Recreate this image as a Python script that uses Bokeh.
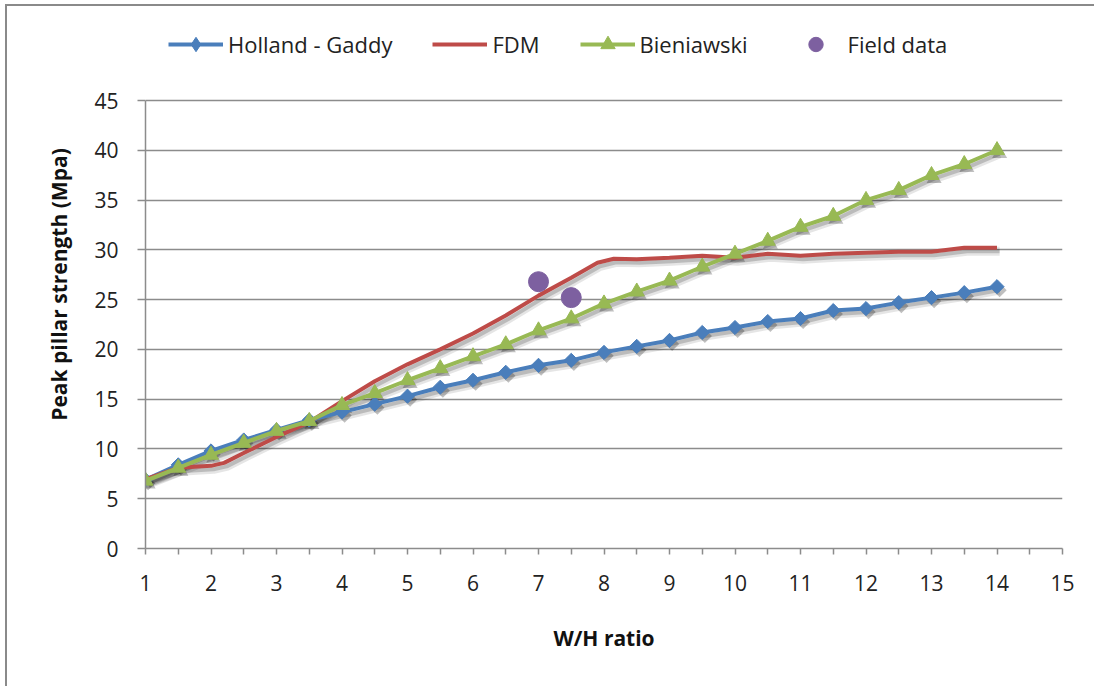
from bokeh.plotting import figure
from bokeh.models import Range1d, FixedTicker, Legend, LegendItem
from bokeh.embed import file_html
from bokeh.resources import INLINE

# ---------------- data ----------------
ratio = [1, 1.5, 2, 2.5, 3, 3.5, 4, 4.5, 5, 5.5, 6, 6.5, 7, 7.5, 8,
         8.5, 9, 9.5, 10, 10.5, 11, 11.5, 12, 12.5, 13, 13.5, 14]
holland_gaddy = [6.9, 8.4, 9.8, 10.9, 11.9, 12.9, 13.7, 14.5, 15.3, 16.2, 16.9,
                 17.7, 18.4, 18.9, 19.7, 20.3, 20.9, 21.7, 22.2, 22.8, 23.1,
                 23.9, 24.1, 24.7, 25.2, 25.7, 26.3]
bieniawski = [6.8, 8.1, 9.4, 10.6, 11.8, 12.8, 14.4, 15.6, 16.9, 18.1, 19.3,
              20.5, 21.9, 23.1, 24.6, 25.8, 26.9, 28.3, 29.6, 30.9, 32.3,
              33.4, 35.0, 36.0, 37.5, 38.6, 40.0]
fdm_ratio = [1, 1.5, 2, 2.2, 2.5, 3, 3.5, 4, 4.5, 5, 5.5, 6, 6.5, 7, 7.5, 7.9,
             8.15, 8.5, 9, 9.5, 10, 10.5, 11, 11.5, 12, 12.5, 13, 13.5, 14]
fdm = [6.95, 8.1, 8.3, 8.6, 9.6, 11.2, 12.7, 14.8, 16.8, 18.5, 20.0, 21.6, 23.4,
       25.4, 27.2, 28.7, 29.1, 29.05, 29.2, 29.4, 29.2, 29.6, 29.4, 29.6, 29.7,
       29.8, 29.8, 30.2, 30.2]
field_ratio = [7.0, 7.5]
field_strength = [26.8, 25.2]

x_ticks = [1, 2, 3, 4, 5, 6, 7, 8, 9, 10, 11, 12, 13, 14, 15]
x_minor = [1.5, 2.5, 3.5, 4.5, 5.5, 6.5, 7.5, 8.5, 9.5, 10.5, 11.5, 12.5,
           13.5, 14.5]
y_ticks = [0, 5, 10, 15, 20, 25, 30, 35, 40, 45]
y_min, y_max = 0, 45

# ---------------- style / layout ----------------
FONT = "Open Sans"
BLUE = "#4a7ebb"
RED = "#be4b48"
GREEN = "#98b954"
PURPLE = "#7d60a0"
GRID = "#8c8c8c"

AXIS_PX = 448          # pixel height of the 0..45 axis
EXTRA_PX = 80          # room above the axis for the legend (inside frame)
y_top = y_max + (y_max - y_min) * EXTRA_PX / AXIS_PX

p = figure(width=1089, height=682, output_backend="svg", toolbar_location=None,
           x_range=Range1d(1, 15), y_range=Range1d(y_min, y_top),
           min_border_left=138, min_border_right=34, min_border_top=14,
           min_border_bottom=140)
p.styles = {"border-left": "2px solid #8a8a8a", "border-top": "2px solid #8a8a8a",
            "margin-left": "5px", "margin-top": "4px"}
p.outline_line_color = None
p.background_fill_color = "white"
p.border_fill_color = "white"

# axes
p.xaxis.ticker = FixedTicker(ticks=x_ticks, minor_ticks=x_minor)
p.yaxis.ticker = FixedTicker(ticks=y_ticks)
p.yaxis.bounds = (y_min, y_max)
for ax in (p.xaxis, p.yaxis):
    ax.axis_line_color = GRID
    ax.axis_line_width = 1.5
    ax.major_tick_line_color = GRID
    ax.major_tick_line_width = 1.5
    ax.minor_tick_line_color = GRID
    ax.minor_tick_line_width = 1.5
    ax.major_tick_in = 0
    ax.minor_tick_in = 0
    ax.major_label_text_font = FONT
    ax.major_label_text_font_size = "21px"
    ax.major_label_text_color = "#222222"
    ax.axis_label_text_font = FONT
    ax.axis_label_text_font_size = "21px"
    ax.axis_label_text_font_style = "bold"
    ax.axis_label_text_color = "#111111"
p.xaxis.major_tick_out = 6
p.xaxis.minor_tick_out = 6
p.xaxis.major_label_standoff = 20
p.xaxis.axis_label = "W/H ratio"
p.xaxis.axis_label_standoff = 30
p.yaxis.major_tick_out = 8
p.yaxis.minor_tick_out = 0
p.yaxis.major_label_standoff = 19
p.yaxis.axis_label = "Peak pillar strength (Mpa)"
p.yaxis.axis_label_standoff = 18

p.xgrid.grid_line_color = None
p.ygrid.grid_line_color = GRID
p.ygrid.grid_line_width = 1.5

# shadows (offset copies of the data)
sdx, sdy = 0.04, -0.35
def sh(xs, ys):
    return [x + sdx for x in xs], [y + sdy for y in ys]

for xs, ys in ((ratio, holland_gaddy), (fdm_ratio, fdm), (ratio, bieniawski)):
    a, b = sh(xs, ys)
    p.line(a, b, line_color="black", line_alpha=0.10, line_width=9)
    p.line(a, b, line_color="black", line_alpha=0.18, line_width=4)
a, b = sh(ratio, holland_gaddy)
p.scatter(a, b, marker="square", angle=0.785398, size=10, fill_color="black",
          fill_alpha=0.25, line_color=None)
a, b = sh(ratio, bieniawski)
p.scatter(a, b, marker="triangle", size=15, fill_color="black", fill_alpha=0.25,
          line_color=None)

# series
hg_line = p.line(ratio, holland_gaddy, line_color=BLUE, line_width=4)
p.scatter(ratio, holland_gaddy, marker="square", angle=0.785398, size=10,
          fill_color=BLUE, line_color=BLUE)
fdm_line = p.line(fdm_ratio, fdm, line_color=RED, line_width=4)
bi_line = p.line(ratio, bieniawski, line_color=GREEN, line_width=4)
bi_pts = p.scatter(ratio, bieniawski, marker="triangle", size=15,
                   fill_color=GREEN, line_color=GREEN)
fd_pts = p.scatter(field_ratio, field_strength, marker="circle", size=20,
                   fill_color=PURPLE, line_color=PURPLE)
# legend-only diamond proxy (not drawn in the plot: NaN position)
nan = float("nan")
hg_leg = p.scatter([nan], [nan], marker="diamond", size=14, fill_color=BLUE,
                   line_color=BLUE)

legend = Legend(items=[
    LegendItem(label="Holland - Gaddy", renderers=[hg_line, hg_leg]),
    LegendItem(label="FDM", renderers=[fdm_line]),
    LegendItem(label="Bieniawski", renderers=[bi_line, bi_pts]),
    LegendItem(label="Field data", renderers=[fd_pts]),
], orientation="horizontal", location=(23, 486))
legend.label_text_font = FONT
legend.label_text_font_size = "22px"
legend.label_text_color = "#222222"
legend.glyph_width = 55
legend.glyph_height = 36
legend.label_standoff = 5
legend.spacing = 40
legend.padding = 0
legend.margin = 0
legend.border_line_color = None
legend.background_fill_alpha = 0
p.add_layout(legend)

open("out.html", "w").write(file_html(p, INLINE))
